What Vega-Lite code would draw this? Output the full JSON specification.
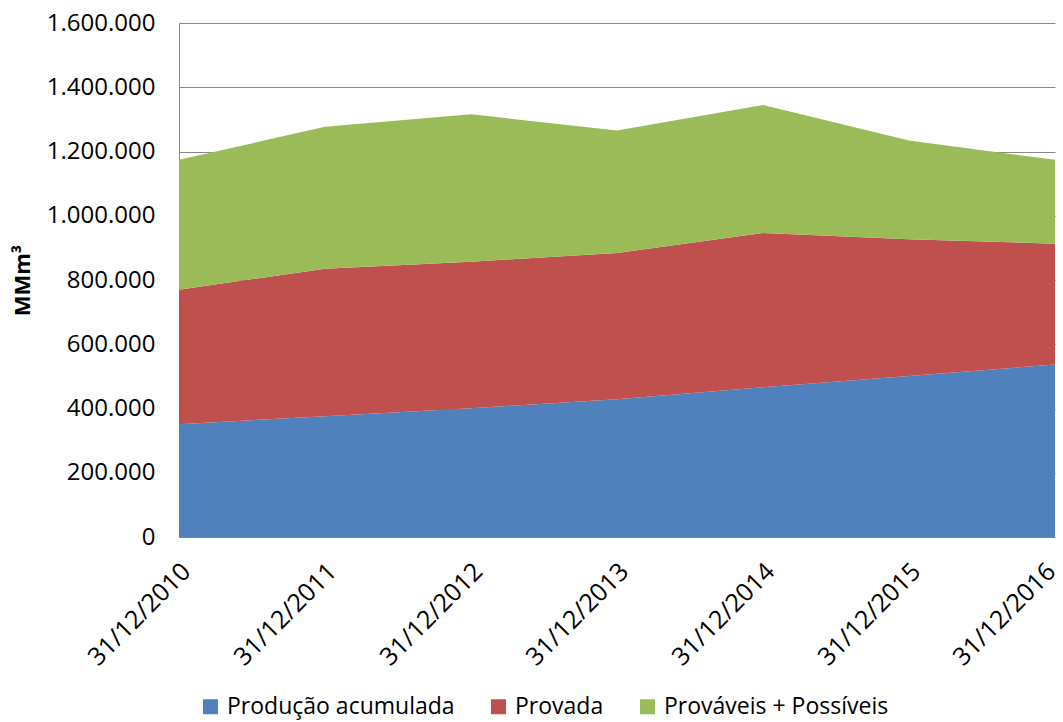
{
  "$schema": "https://vega.github.io/schema/vega-lite/v6.json",
  "autosize": {"type": "none"},
  "width": 876,
  "height": 514,
  "padding": {"left": 179, "top": 23, "right": 8, "bottom": 185},
  "background": "white",
  "config": {
    "locale": {"number": {"decimal": ",", "thousands": ".", "grouping": [3], "currency": ["R$", ""]}},
    "font": "Open Sans",
    "view": {"stroke": null}
  },
  "data": {
    "values": [
      {"data": "31/12/2010", "serie": "Produção acumulada", "ordem": 1, "valor": 351000},
      {"data": "31/12/2010", "serie": "Provada", "ordem": 2, "valor": 419000},
      {"data": "31/12/2010", "serie": "Prováveis + Possíveis", "ordem": 3, "valor": 404000},
      {"data": "31/12/2011", "serie": "Produção acumulada", "ordem": 1, "valor": 376000},
      {"data": "31/12/2011", "serie": "Provada", "ordem": 2, "valor": 459000},
      {"data": "31/12/2011", "serie": "Prováveis + Possíveis", "ordem": 3, "valor": 442000},
      {"data": "31/12/2012", "serie": "Produção acumulada", "ordem": 1, "valor": 401000},
      {"data": "31/12/2012", "serie": "Provada", "ordem": 2, "valor": 456000},
      {"data": "31/12/2012", "serie": "Prováveis + Possíveis", "ordem": 3, "valor": 459000},
      {"data": "31/12/2013", "serie": "Produção acumulada", "ordem": 1, "valor": 429000},
      {"data": "31/12/2013", "serie": "Provada", "ordem": 2, "valor": 455000},
      {"data": "31/12/2013", "serie": "Prováveis + Possíveis", "ordem": 3, "valor": 381000},
      {"data": "31/12/2014", "serie": "Produção acumulada", "ordem": 1, "valor": 466000},
      {"data": "31/12/2014", "serie": "Provada", "ordem": 2, "valor": 480000},
      {"data": "31/12/2014", "serie": "Prováveis + Possíveis", "ordem": 3, "valor": 399000},
      {"data": "31/12/2015", "serie": "Produção acumulada", "ordem": 1, "valor": 501000},
      {"data": "31/12/2015", "serie": "Provada", "ordem": 2, "valor": 426000},
      {"data": "31/12/2015", "serie": "Prováveis + Possíveis", "ordem": 3, "valor": 307000},
      {"data": "31/12/2016", "serie": "Produção acumulada", "ordem": 1, "valor": 537000},
      {"data": "31/12/2016", "serie": "Provada", "ordem": 2, "valor": 376000},
      {"data": "31/12/2016", "serie": "Prováveis + Possíveis", "ordem": 3, "valor": 261000}
    ]
  },
  "mark": {"type": "area", "opacity": 1},
  "encoding": {
    "x": {
      "field": "data",
      "type": "ordinal",
      "scale": {"type": "point", "padding": 0},
      "axis": {
        "title": null,
        "labelAngle": -45,
        "labelAlign": "right",
        "labelBaseline": "middle",
        "labelFont": "Open Sans",
        "labelFontSize": 25,
        "labelColor": "black",
        "labelPadding": 30,
        "labelOffset": {"condition": {"test": "datum.value === '31/12/2016'", "value": -4}, "value": 7},
        "labelOverlap": false,
        "labelBound": false,
        "ticks": false,
        "domainColor": "#888888",
        "grid": false
      }
    },
    "y": {
      "field": "valor",
      "type": "quantitative",
      "stack": "zero",
      "scale": {"domain": [0, 1600000], "nice": false},
      "axis": {
        "title": "MMm³",
        "titleFont": "Open Sans",
        "titleFontSize": 22,
        "titleFontWeight": "bold",
        "titleColor": "black",
        "titlePadding": 12,
        "values": [0, 200000, 400000, 600000, 800000, 1000000, 1200000, 1400000, 1600000],
        "format": ",d",
        "labelFont": "Open Sans",
        "labelFontSize": 24,
        "labelColor": "black",
        "labelPadding": 24,
        "ticks": false,
        "domainColor": "#888888",
        "grid": true,
        "gridColor": "#888888",
        "gridWidth": 1
      }
    },
    "color": {
      "field": "serie",
      "type": "nominal",
      "scale": {
        "domain": ["Produção acumulada", "Provada", "Prováveis + Possíveis"],
        "range": ["#4F81BD", "#C0504D", "#9BBB59"]
      },
      "legend": {
        "title": null,
        "orient": "none",
        "direction": "horizontal",
        "legendX": 20,
        "legendY": 672,
        "symbolType": "square",
        "symbolSize": 225,
        "symbolStrokeWidth": 0,
        "labelFont": "Open Sans",
        "labelFontSize": 23,
        "labelColor": "black",
        "labelLimit": 0,
        "columnPadding": 32,
        "labelOffset": 5
      }
    },
    "order": {"field": "ordem", "type": "quantitative"}
  }
}
